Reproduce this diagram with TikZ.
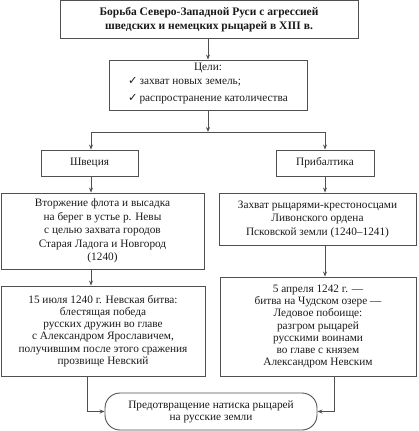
\documentclass[tikz,border=0pt]{standalone}
\usepackage{fontspec}
\setmainfont{Liberation Serif}
\newfontfamily\symfont{DejaVu Sans}
\usetikzlibrary{arrows.meta}
\definecolor{linec}{HTML}{505050}
\definecolor{textc}{HTML}{1A1A1A}
\newcommand{\chk}{{\symfont ✓}\,}
\begin{document}
\begin{tikzpicture}[x=1pt,y=-1pt,
  box/.style={draw=linec,line width=0.9pt,text=textc,align=center,inner sep=0pt,
     font=\fontsize{11.3}{12.3}\selectfont},
  arr/.style={draw=linec,line width=0.8pt,-{Stealth[length=5pt,width=4pt]}},
  ln/.style={draw=linec,line width=0.8pt}]
\useasboundingbox (0,0) rectangle (418,431);
\node[box,minimum width=298pt,minimum height=38pt,font=\bfseries\fontsize{11.5}{14}\selectfont] (title) at (209,19.8)
  {Борьба Северо-Западной Руси с агрессией\\шведских и немецких рыцарей в XIII в.};
\node[box,minimum width=198pt,minimum height=50pt,font=\fontsize{11.3}{16.5}\selectfont] (goals) at (208,85)
  {Цели:\\[-1.5pt]\begin{tabular}{@{}l@{}}\chk захват новых земель;\\[0.5pt]\chk распространение католичества\end{tabular}};
\node[box,minimum width=97pt,minimum height=26pt] (sweden) at (89.5,163) {Швеция};
\node[box,minimum width=98pt,minimum height=26pt] (baltic) at (325,163) {Прибалтика};
\node[box,minimum width=203pt,minimum height=76pt,font=\fontsize{11.3}{13.5}\selectfont] (invasion) at (102.5,231)
  {Вторжение флота и высадка\\на берег в устье р. Невы\\с целью захвата городов\\Старая Ладога и Новгород\\(1240)};
\node[box,minimum width=197pt,minimum height=52pt,font=\fontsize{11.3}{13.5}\selectfont] (capture) at (317.5,219)
  {Захват рыцарями-крестоносцами\\Ливонского ордена\\Псковской земли (1240–1241)};
\node[box,minimum width=204pt,minimum height=90pt] (neva) at (103,331)
  {15 июля 1240 г. Невская битва:\\блестящая победа\\русских дружин во главе\\с Александром Ярославичем,\\получившим после этого сражения\\прозвище Невский};
\node[box,minimum width=196pt,minimum height=99pt] (ice) at (318,326.5)
  {5 апреля 1242 г. —\\битва на Чудском озере —\\Ледовое побоище:\\разгром рыцарей\\русскими воинами\\во главе с князем\\Александром Невским};
\node[box,minimum width=212pt,minimum height=37pt,rounded corners=15pt] (result) at (211,411.5)
  {Предотвращение натиска рыцарей\\на русские земли};
\coordinate (split) at (208,132);
\draw[arr] (goals.north |- title.south) -- (goals.north);
\draw[arr] (goals.south) -- (split);
\draw[arr] (split) -| ([xshift=1.5pt]sweden.north);
\draw[arr] (split) -| (baltic.north);
\draw[arr] ([xshift=1.5pt]sweden.south) -- ([xshift=1.5pt]sweden.south |- invasion.north);
\draw[arr] (baltic.south) -- (baltic.south |- capture.north);
\draw[arr] ([xshift=1.5pt]sweden.south |- invasion.south) -- ([xshift=1.5pt]sweden.south |- neva.north);
\draw[arr] (baltic.south |- capture.south) -- (baltic.south |- ice.north);
\draw[arr] ([xshift=-16pt]neva.south) |- (result.west);
\draw[arr] ([xshift=16pt]ice.south) |- (result.east);
\end{tikzpicture}
\end{document}
